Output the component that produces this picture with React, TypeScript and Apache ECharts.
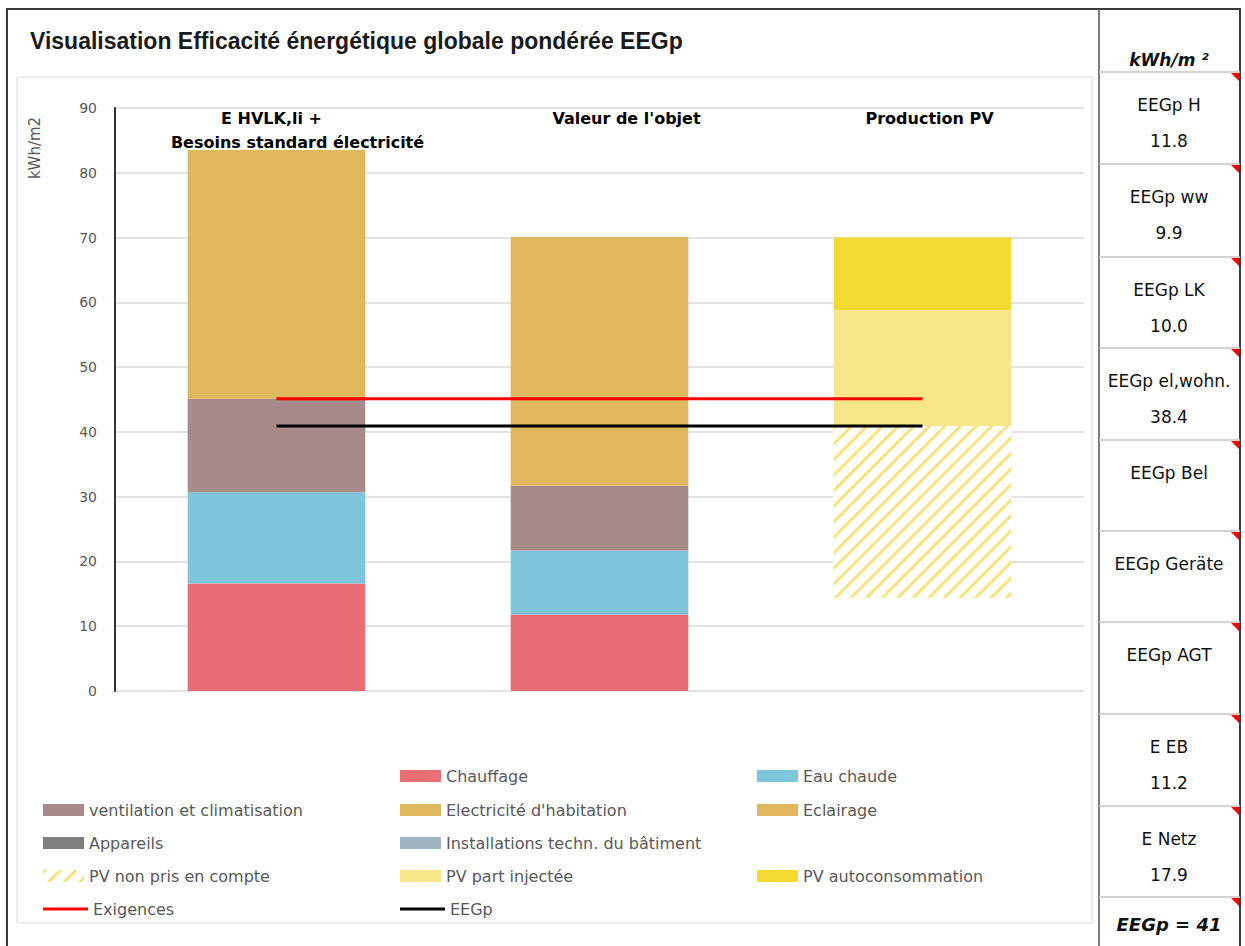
import React, { useEffect, useRef } from "react";
import * as echarts from "echarts";

// ---- data ----
const categories = [
  "E HVLK,li +\nBesoins standard électricité",
  "Valeur de l'objet",
  "Production PV",
];
const chauffage = [16.6, 11.8, null];
const eauChaude = [14.1, 9.9, null];
const ventilation = [14.4, 10.0, null];
const electricite = [38.4, 38.4, null];
const eclairage = [null, null, null];
const appareils = [null, null, null];
const installations = [null, null, null];
const pvHidden = [null, null, 14.4];
const pvNonPris = [null, null, 26.5];
const pvInjectee = [null, null, 17.9];
const pvAutocons = [null, null, 11.2];
const exigences = [45.1, 45.1, 45.1];
const eegp = [40.9, 40.9, 40.9];

const yMin = 0;
const yMax = 90;
const yInterval = 10;
const yName = "kWh/m2";
const title = "Visualisation Efficacité énergétique globale pondérée EEGp";

const panelUnit = "kWh/m ²";
const panelLabels = ["EEGp H", "EEGp ww", "EEGp LK", "EEGp el,wohn.", "EEGp Bel", "EEGp Geräte", "EEGp AGT", "E EB", "E Netz"];
const panelValues = ["11.8", "9.9", "10.0", "38.4", "", "", "", "11.2", "17.9"];
const panelTotal = "EEGp = 41";

// ---- styles / layout ----
const C = {
  chauffage: "#e96d74",
  eau: "#7ec5da",
  vent: "#a78a89",
  elec: "#dfb75d",
  eclairage: "#dfb75d",
  appareils: "#7f7f7f",
  install: "#9db5be",
  pvHatch: "#f6e27f",
  pvInj: "#f7e687",
  pvAuto: "#f2da33",
  exig: "#ff0000",
  eegp: "#000000",
};

const legendCols = [43, 400, 757];
const legendRows = [776, 810, 843, 876, 909];
const legendLayout: [string, number, number][] = [
  ["Chauffage", 1, 0],
  ["Eau chaude", 2, 0],
  ["ventilation et climatisation", 0, 1],
  ["Electricité d'habitation", 1, 1],
  ["Eclairage", 2, 1],
  ["Appareils", 0, 2],
  ["Installations techn. du bâtiment", 1, 2],
  ["PV non pris en compte", 0, 3],
  ["PV part injectée", 1, 3],
  ["PV autoconsommation", 2, 3],
  ["Exigences", 0, 4],
  ["EEGp", 1, 4],
];
const lineLegendNames = ["Exigences", "EEGp"];

const cellLines = [72, 164, 257, 348, 440, 531, 622, 714, 806, 897];

const labelFont = { fontFamily: "DejaVu Sans", fontWeight: "bold" as const, fontSize: 16, color: "#000", lineHeight: 24 };

export default function App() {
  const ref = useRef<HTMLDivElement>(null);
  useEffect(() => {
    if (!ref.current) return;
    const chart = echarts.init(ref.current, null, { renderer: "svg" });

    const bar = (name: string, data: any[], color: string, extra: any = {}) => ({
      name,
      type: "bar",
      stack: "total",
      data,
      barWidth: "55%",
      itemStyle: { color, ...extra },
      emphasis: { disabled: true },
    });

    const legends = legendLayout.map(([name, col, row]) => {
      const isLine = lineLegendNames.includes(name);
      return {
        data: [{ name, icon: "rect" }],
        left: legendCols[col],
        top: legendRows[row] - 10,
        padding: 0,
        itemWidth: isLine ? 45 : 41,
        itemHeight: isLine ? 3 : 12,
        selectedMode: false,
        textStyle: { fontFamily: "DejaVu Sans", fontSize: 16, color: "#595959", lineHeight: 20 },
      };
    });

    const graphics: any[] = [
      { type: "rect", z: -10, shape: { x: 7, y: 9, width: 1233, height: 945 }, style: { fill: "#ffffff", stroke: "#3a3a3a", lineWidth: 2 } },
      { type: "rect", z: -9, shape: { x: 17, y: 77, width: 1075, height: 846 }, style: { fill: "#ffffff", stroke: "#d9d9d9", lineWidth: 1 } },
      { type: "line", z: -8, shape: { x1: 1099, y1: 9, x2: 1099, y2: 950 }, style: { stroke: "#555555", lineWidth: 1.5 } },
      {
        type: "text", left: 30, top: 29,
        style: { text: title, font: "bold 23px 'Liberation Sans Narrow', 'Liberation Sans', sans-serif", fill: "#1a1a1a" },
      },
      {
        type: "text", x: 35, y: 148, rotation: Math.PI / 2,
        style: { text: yName, font: "15px 'DejaVu Sans', sans-serif", fill: "#595959", align: "center", verticalAlign: "middle" },
      },
      {
        type: "text", x: 1169, y: 60,
        style: { text: panelUnit, font: "italic bold 17px 'DejaVu Sans', sans-serif", fill: "#111", align: "center", verticalAlign: "middle" },
      },
      {
        type: "text", x: 1169, y: 924,
        style: { text: panelTotal, font: "italic bold 18px 'DejaVu Sans', sans-serif", fill: "#111", align: "center", verticalAlign: "middle" },
      },
    ];
    cellLines.forEach((y, i) => {
      graphics.push({ type: "line", z: -7, shape: { x1: 1099, y1: y, x2: 1240, y2: y }, style: { stroke: "#c4c4c4", lineWidth: 1.5 } });
      graphics.push({ type: "polygon", shape: { points: [[1231, y + 1], [1239, y + 1], [1239, y + 9]] }, style: { fill: "#ff0000" } });
      if (i < panelLabels.length) {
        graphics.push({
          type: "text", x: 1169, y: y + 33,
          style: { text: panelLabels[i], font: "17px 'DejaVu Sans', sans-serif", fill: "#111", align: "center", verticalAlign: "middle" },
        });
        if (panelValues[i]) {
          graphics.push({
            type: "text", x: 1169, y: y + 69,
            style: { text: panelValues[i], font: "17px 'DejaVu Sans', sans-serif", fill: "#111", align: "center", verticalAlign: "middle" },
          });
        }
      }
    });

    // per-line horizontal offsets of the category captions (as placed in the original)
    const captionRich: any = {
      l0a: { ...labelFont, padding: [0, 10, 0, 0] },
      l0b: { ...labelFont, padding: [0, 0, 0, 42] },
      l1: { ...labelFont, padding: [0, 0, 0, 54] },
      l2: { ...labelFont, padding: [0, 0, 0, 14] },
    };

    chart.setOption({
      animation: false,
      backgroundColor: "#ffffff",
      grid: { left: 115, right: 161, top: 108, bottom: 255, containLabel: false },
      xAxis: {
        type: "category",
        data: categories,
        position: "top",
        axisLine: { show: false },
        axisTick: { show: false },
        axisLabel: {
          inside: true,
          margin: -2,
          interval: 0,
          ...labelFont,
          verticalAlign: "top",
          formatter: (value: string, idx: number) => {
            if (idx === 0) {
              const [a, b] = value.split("\n");
              return `{l0a|${a}}\n{l0b|${b}}`;
            }
            return `{l${idx}|${value}}`;
          },
          rich: captionRich,
        },
      },
      yAxis: {
        type: "value",
        min: yMin,
        max: yMax,
        interval: yInterval,
        axisLine: { show: true, lineStyle: { color: "#333", width: 2 } },
        axisTick: { show: false },
        axisLabel: { color: "#595959", fontFamily: "DejaVu Sans", fontSize: 14, margin: 18 },
        splitLine: { lineStyle: { color: "#dadada", width: 1.5 } },
      },
      legend: legends,
      graphic: graphics,
      series: [
        bar("Chauffage", chauffage, C.chauffage),
        bar("Eau chaude", eauChaude, C.eau),
        bar("ventilation et climatisation", ventilation, C.vent),
        bar("Electricité d'habitation", electricite, C.elec),
        bar("Eclairage", eclairage, C.eclairage),
        bar("Appareils", appareils, C.appareils),
        bar("Installations techn. du bâtiment", installations, C.install),
        bar("pvHidden", pvHidden, "rgba(0,0,0,0)"),
        bar("PV non pris en compte", pvNonPris, "#ffffff", {
          decal: {
            symbol: "rect",
            color: C.pvHatch,
            dashArrayX: [1, 0],
            dashArrayY: [3, 8],
            symbolSize: 1,
            rotation: -Math.PI / 4,
          },
        }),
        bar("PV part injectée", pvInjectee, C.pvInj),
        bar("PV autoconsommation", pvAutocons, C.pvAuto),
        {
          name: "Exigences", type: "line", data: exigences, symbol: "none", z: 5,
          itemStyle: { color: C.exig }, lineStyle: { color: C.exig, width: 3 },
        },
        {
          name: "EEGp", type: "line", data: eegp, symbol: "none", z: 5,
          itemStyle: { color: C.eegp }, lineStyle: { color: C.eegp, width: 3 },
        },
      ],
    });
    return () => chart.dispose();
  }, []);
  return <div ref={ref} style={{ position: "absolute", left: 0, top: 0, width: 1245, height: 946 }} />;
}
